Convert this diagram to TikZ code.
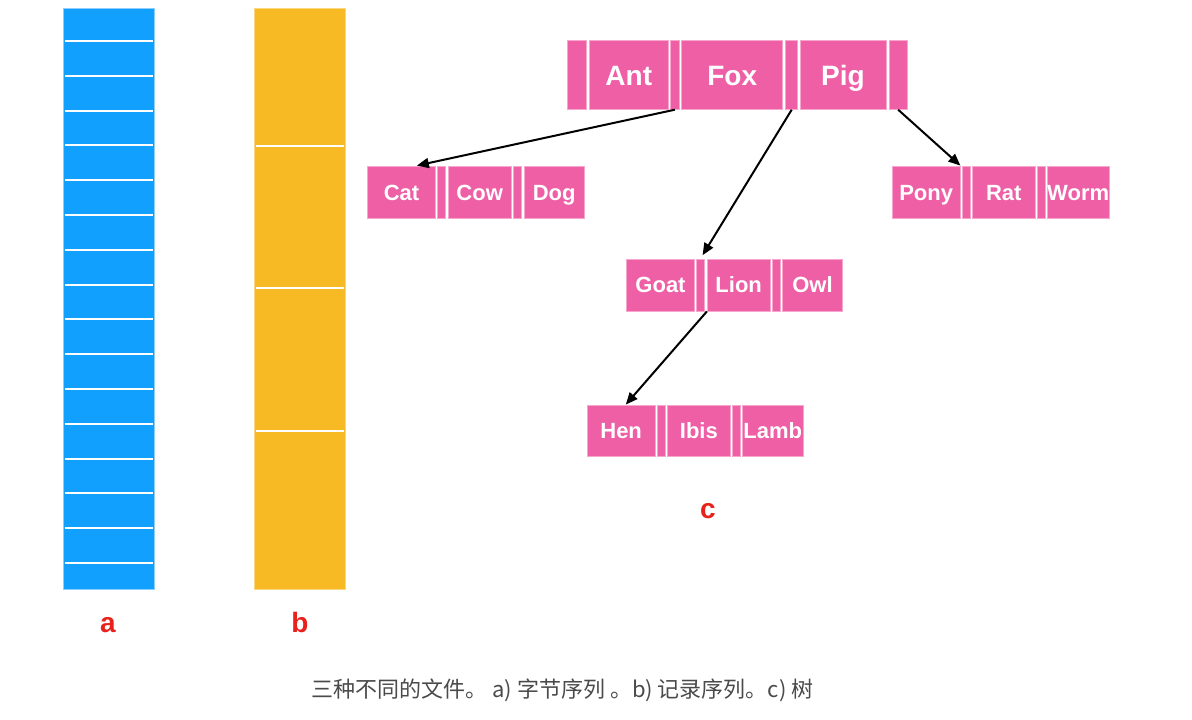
\documentclass[tikz,border=0pt]{standalone}
\usepackage{fontspec}
\setmainfont{Liberation Sans}
\newfontfamily\cjk{Noto Sans CJK SC}
\usetikzlibrary{arrows.meta}
\definecolor{barblue}{HTML}{12A0FF}
\definecolor{barblueedge}{HTML}{8CCFFF}
\definecolor{baryellow}{HTML}{F7BA24}
\definecolor{baryellowedge}{HTML}{FBD780}
\definecolor{recpink}{HTML}{EE5FA6}
\definecolor{recpinkedge}{HTML}{F7A6CD}
\definecolor{labred}{HTML}{E8211C}
\definecolor{capgray}{HTML}{4A4A4A}
\tikzset{
  piece/.style={fill=recpink, draw=recpinkedge, line width=0.8pt, inner sep=0pt,
    text=white, text height=15.8pt, text depth=0pt,
    font=\bfseries\fontsize{22}{25}\selectfont},
  bigpiece/.style={piece, minimum height=68.6pt, text height=20.2pt,
    font=\bfseries\fontsize{28}{32}\selectfont},
  rowA/.style={piece, minimum height=52.3pt},
  conn/.style={draw=black, line width=2pt, -{Triangle[length=12pt,width=10pt]}},
  lab/.style={text=labred, font=\bfseries\fontsize{28}{32}\selectfont, anchor=base},
  sep/.style={draw=white, line width=2pt}
}
\begin{document}
\begin{tikzpicture}[x=1pt,y=-1pt]
\useasboundingbox (0,0) rectangle (1192,720);
% bar a
\draw[fill=barblue, draw=barblueedge, line width=1pt] (63,8) rectangle (154,589);
\foreach \i in {0,...,15}{
  \draw[sep] (64.5,41+\i*34.8) -- (152.5,41+\i*34.8);
}
% bar b
\draw[fill=baryellow, draw=baryellowedge, line width=1pt] (254.3,8) rectangle (345.3,589);
\foreach \yy in {146,288,431}{
  \draw[sep] (255.8,\yy) -- (343.8,\yy);
}
\node[lab] (la) at (108,632) {a};
\node[lab] (lb) at (300,632) {b};
\node[lab] (lc) at (708,518) {c};
% top record
\node[bigpiece, minimum width=19.4pt] (t1) at (577,75) {};
\node[bigpiece, minimum width=79pt] (t2) at (628.8,75) {Ant};
\node[bigpiece, minimum width=8.3pt] (t3) at (674.85,75) {};
\node[bigpiece, minimum width=101pt] (t4) at (732.2,75) {Fox};
\node[bigpiece, minimum width=12pt] (t5) at (791.7,75) {};
\node[bigpiece, minimum width=86pt] (t6) at (843,75) {Pig};
\node[bigpiece, minimum width=18.3pt] (t7) at (898.15,75) {};
% Cat row
\node[rowA, minimum width=68.4pt] (c1) at (401.5,192.15) {Cat};
\node[rowA, minimum width=8pt] (c2) at (441.7,192.15) {};
\node[rowA, minimum width=62.7pt] (c3) at (479.65,192.15) {Cow};
\node[rowA, minimum width=8.4pt] (c4) at (517.5,192.15) {};
\node[rowA, minimum width=60.3pt] (c5) at (554.15,192.15) {Dog};
% Pony row
\node[rowA, minimum width=67.7pt] (p1) at (926.15,192.15) {Pony};
\node[rowA, minimum width=7.7pt] (p2) at (966.15,192.15) {};
\node[rowA, minimum width=63pt] (p3) at (1003.8,192.15) {Rat};
\node[rowA, minimum width=7.6pt] (p4) at (1041.5,192.15) {};
\node[rowA, minimum width=61pt] (p5) at (1078.2,192.15) {Worm};
% Goat row
\node[rowA, minimum height=52pt, minimum width=67.6pt] (g1) at (660.5,285) {Goat};
\node[rowA, minimum height=52pt, minimum width=7.6pt] (g2) at (700.5,285) {};
\node[rowA, minimum height=52pt, minimum width=62.7pt] (g3) at (738.65,285) {Lion};
\node[rowA, minimum height=52pt, minimum width=7.7pt] (g4) at (776.15,285) {};
\node[rowA, minimum height=52pt, minimum width=60.4pt] (g5) at (812.5,285) {Owl};
% Hen row
\node[rowA, minimum height=51.7pt, minimum width=67.7pt] (h1) at (621.15,430.85) {Hen};
\node[rowA, minimum height=51.7pt, minimum width=7.7pt] (h2) at (661.15,430.85) {};
\node[rowA, minimum height=51.7pt, minimum width=62.3pt] (h3) at (698.85,430.85) {Ibis};
\node[rowA, minimum height=51.7pt, minimum width=7.3pt] (h4) at (736.35,430.85) {};
\node[rowA, minimum height=51.7pt, minimum width=61pt] (h5) at (772.8,430.85) {Lamb};
% connectors
\draw[conn] (t3.south) -- (c1.60);
\draw[conn, shorten >=4pt] (t5.south) -- (g2.north);
\draw[conn] (t7.south) -- (p1.north east);
\draw[conn] (g3.south west) -- (h1.80);
% caption
\node[text=capgray, font=\cjk\fontsize{22}{25}\selectfont] (cap) at (562.5,690)
  {三种不同的文件。 a) 字节序列 。b) 记录序列。c) 树};
\end{tikzpicture}
\end{document}
